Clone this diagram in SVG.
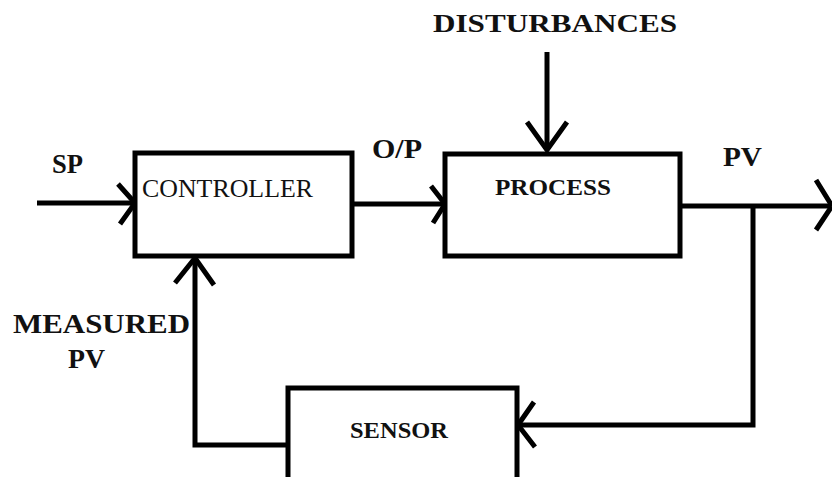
<svg xmlns="http://www.w3.org/2000/svg" width="832" height="477" viewBox="0 0 832 477">
<style>
.box{fill:#fff;stroke:#000;stroke-width:5}
.ln{fill:none;stroke:#000;stroke-width:5}
.ah{fill:none;stroke:#000;stroke-width:5;stroke-linejoin:miter}
text{font-family:"Liberation Serif","Times New Roman",serif;fill:#111}
.b{font-weight:bold}
</style>
<rect width="832" height="477" fill="#fff"/>
<g id="connectors">
<path class="ln" d="M37,203 H133"/>
<polyline class="ah" points="118,184 135,203 120,224"/>
<path class="ln" d="M352,204 H443"/>
<polyline class="ah" points="431,186 445,204 433,223"/>
<path class="ln" d="M547,52 V150"/>
<polyline class="ah" points="527,122 547,150 567,122"/>
<path class="ln" d="M680,206 H830"/>
<polyline class="ah" points="816,180 832,206 816,230"/>
<path class="ln" d="M753,206 V425 H520"/>
<polyline class="ah" points="534,402 518,425 535,447"/>
<path class="ln" d="M288,445 H195 V259"/>
<polyline class="ah" points="175,283 195,258 214,285"/>
</g>
<g id="controller">
<rect class="box" x="135" y="153" width="217" height="103"/>
<text x="142" y="197" font-size="25" textLength="171" lengthAdjust="spacingAndGlyphs">CONTROLLER</text>
</g>
<g id="process">
<rect class="box" x="445" y="154" width="235" height="102"/>
<text class="b" x="495" y="195" font-size="24" textLength="116" lengthAdjust="spacingAndGlyphs">PROCESS</text>
</g>
<g id="sensor">
<rect class="box" x="288" y="388" width="229" height="100"/>
<text class="b" x="350" y="438" font-size="23" textLength="98" lengthAdjust="spacingAndGlyphs">SENSOR</text>
</g>
<g id="labels">
<text class="b" x="433" y="32" font-size="26" textLength="244" lengthAdjust="spacingAndGlyphs">DISTURBANCES</text>
<text class="b" x="52" y="173" font-size="27" textLength="31" lengthAdjust="spacingAndGlyphs">SP</text>
<text class="b" x="372" y="158" font-size="27" textLength="50" lengthAdjust="spacingAndGlyphs">O/P</text>
<text class="b" x="723" y="166" font-size="28" textLength="39" lengthAdjust="spacingAndGlyphs">PV</text>
<text class="b" x="13" y="333" font-size="28" textLength="177" lengthAdjust="spacingAndGlyphs">MEASURED</text>
<text class="b" x="68" y="368" font-size="28" textLength="37" lengthAdjust="spacingAndGlyphs">PV</text>
</g>
</svg>
